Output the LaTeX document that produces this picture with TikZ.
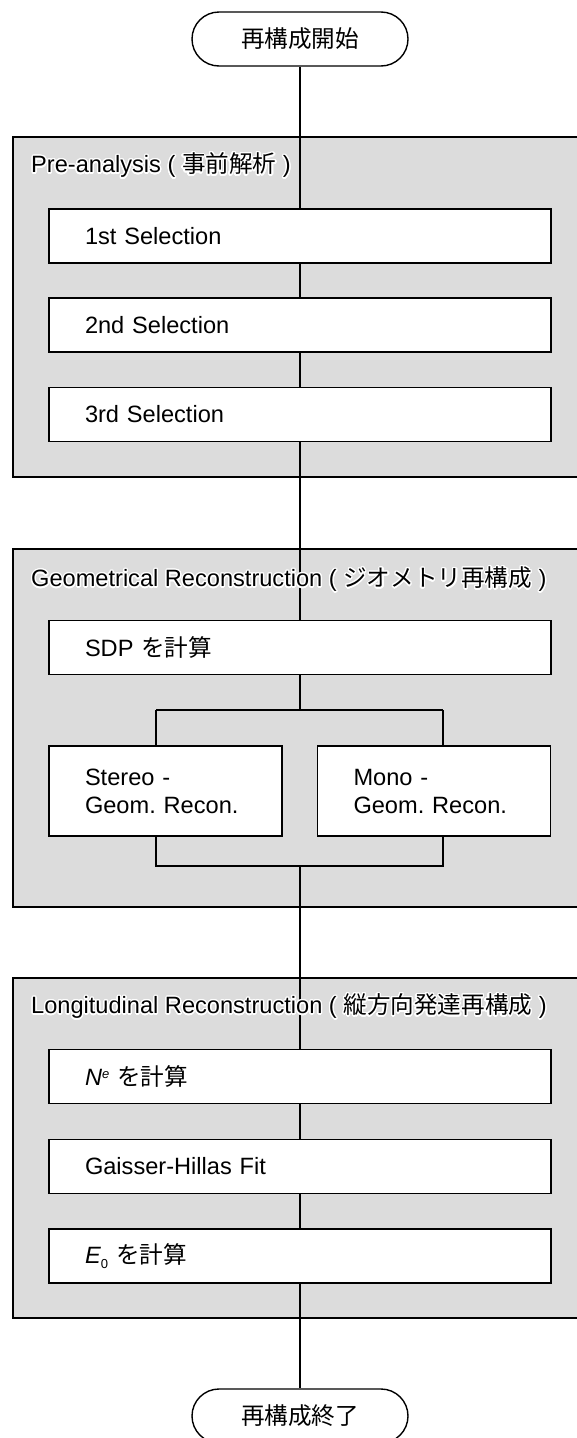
\documentclass[tikz,border=0pt]{standalone}
\usepackage{fontspec}
\setmainfont{Liberation Sans}
\newfontfamily\jp{Noto Sans CJK JP}
\usepackage{contour}
\contourlength{1.3pt}
\contournumber{24}
\usetikzlibrary{calc}
\definecolor{grp}{RGB}{220,220,220}
\pgfdeclarelayer{bg}
\pgfdeclarelayer{lines}
\pgfsetlayers{bg,lines,main}
\frenchspacing
\begin{document}
\begin{tikzpicture}[x=1pt,y=-1pt,
  font=\fontsize{23.6}{28}\selectfont,
  stepbox/.style={draw, line width=1.4pt, fill=white, minimum height=54pt, text width=430pt, inner xsep=36pt, inner ysep=0pt, align=left},
  halfbox/.style={stepbox, text width=161pt, minimum height=90pt},
  term/.style={draw, line width=1.4pt, fill=white, rounded corners=27pt, minimum width=216pt, minimum height=54pt, inner sep=0pt},
  group/.style={draw, line width=1.2pt, fill=grp},
  conn/.style={line width=1.1pt},
  gtitle/.style={anchor=west, inner sep=0pt}]
\clip (0,0) rectangle (577,1438);
\useasboundingbox (0,0) rectangle (577,1438);

% nodes
\node[term] (start) at (300,39) {\jp 再構成開始};
\node[stepbox] (s1) at (300,236) {1st Selection};
\node[stepbox] (s2) at (300,325) {2nd Selection};
\node[stepbox] (s3) at (300,414.5) {3rd Selection};
\node[stepbox] (sdp) at (300,647.5) {SDP {\jp を計算}};
\node[halfbox] (stereo) at (165.5,791) {Stereo -\\Geom.\ Recon.};
\node[halfbox] (mono) at (434,791) {Mono -\\Geom.\ Recon.};
\node[stepbox] (ne) at (300,1076.5) {\textit{N}\raisebox{0.55ex}{\fontsize{13}{13}\selectfont\textit{e}} {\jp を計算}};
\node[stepbox] (gh) at (300,1166.5) {Gaisser-Hillas Fit};
\node[stepbox] (e0) at (300,1256) {\textit{E}\raisebox{-0.45ex}{\fontsize{13}{13}\selectfont 0} {\jp を計算}};
\node[term] (end) at (300,1416) {\jp 再構成終了};

% group titles
\node[gtitle] (t1) at (31,166) {\contour{white}{Pre-analysis ( {\jp 事前解析} )}};
\node[gtitle] (t2) at (31,580) {\contour{white}{Geometrical Reconstruction ( {\jp ジオメトリ再構成} )}};
\node[gtitle] (t3) at (31,1007) {\contour{white}{Longitudinal Reconstruction ( {\jp 縦方向発達再構成} )}};

% groups
\begin{pgfonlayer}{bg}
\draw[group] (13,137) rectangle (600,477);
\draw[group] (13,549) rectangle (600,907);
\draw[group] (13,978) rectangle (600,1318);
\end{pgfonlayer}

% connectors
\coordinate (bc) at (300,710);
\coordinate (bl) at (156,710);
\coordinate (br) at (443,710);
\coordinate (mc) at (300,866);
\coordinate (ml) at (156,866);
\coordinate (mr) at (443,866);
\begin{pgfonlayer}{lines}
\draw[conn] (start) -- (s1);
\draw[conn] (s1) -- (s2);
\draw[conn] (s2) -- (s3);
\draw[conn] (s3) -- (sdp);
\draw[conn] (sdp) -- (bc);
\draw[conn] (bl) -- (br);
\draw[conn] (bl) -- (bl |- stereo.north);
\draw[conn] (br) -- (br |- mono.north);
\draw[conn] (bl |- stereo.south) -- (ml) -- (mr) -- (br |- mono.south);
\draw[conn] (mc) -- (ne);
\draw[conn] (ne) -- (gh);
\draw[conn] (gh) -- (e0);
\draw[conn] (e0) -- (end);
\end{pgfonlayer}
\end{tikzpicture}
\end{document}
